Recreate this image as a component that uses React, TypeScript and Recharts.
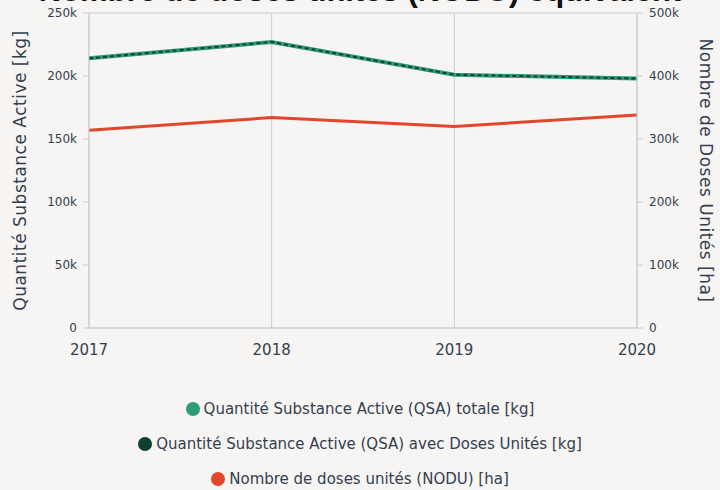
import React from 'react';
import { LineChart, Line, XAxis, YAxis, CartesianGrid } from 'recharts';

const years = ['2017', '2018', '2019', '2020'];
const qsaTotal = [214000, 227000, 201000, 198000];
const qsaDoses = [214000, 227000, 201000, 198000];
const nodu = [314000, 334000, 320000, 338000];

const leftTicks = [0, 50000, 100000, 150000, 200000, 250000];
const rightTicks = [0, 100000, 200000, 300000, 400000, 500000];

const series = [
  { key: 'qsaTotal', name: 'Quantité Substance Active (QSA) totale [kg]', color: '#2e9c7b' },
  { key: 'qsaDoses', name: 'Quantité Substance Active (QSA) avec Doses Unités [kg]', color: '#0f3f30' },
  { key: 'nodu', name: 'Nombre de doses unités (NODU) [ha]', color: '#e2462b' },
];

const data = years.map((year, i) => ({
  year,
  qsaTotal: qsaTotal[i],
  qsaDoses: qsaDoses[i],
  nodu: nodu[i],
}));

const FONT = '"DejaVu Sans", "Noto Sans", sans-serif';
const TEXT = '#34404f';
const GRID = '#c8ccd3';

const fmtK = (v: number) => (v === 0 ? '0' : `${v / 1000}k`);

export default function App() {
  return (
    <div style={{ position: 'absolute', left: 0, top: 0, width: 720, height: 490, background: '#f6f5f3', overflow: 'hidden', fontFamily: FONT }}>
      <LineChart width={720} height={390} data={data} margin={{ top: 13, right: 10, left: 10, bottom: 30 }}>
        <CartesianGrid stroke={GRID} vertical horizontal />
        <XAxis
          dataKey="year"
          tick={{ fontSize: 15, fill: TEXT }}
          tickLine={false}
          axisLine={{ stroke: GRID }}
          tickMargin={10}
          height={32}
          padding={{ left: 0, right: 0 }}
        />
        <YAxis
          yAxisId="left"
          domain={[0, 250000]}
          ticks={leftTicks}
          tickFormatter={fmtK}
          tick={{ fontSize: 12, fill: TEXT }}
          tickLine={{ stroke: GRID }}
          axisLine={{ stroke: GRID }}
          tickMargin={6}
          width={79}
          label={{ value: 'Quantité Substance Active [kg]', angle: -90, position: 'insideLeft', offset: 10, style: { textAnchor: 'middle', fontSize: 17, letterSpacing: 0.5, fill: TEXT } }}
        />
        <YAxis
          yAxisId="right"
          orientation="right"
          domain={[0, 500000]}
          ticks={rightTicks}
          tickFormatter={fmtK}
          tick={{ fontSize: 12, fill: TEXT }}
          tickLine={{ stroke: GRID }}
          axisLine={{ stroke: GRID }}
          tickMargin={6}
          width={73}
          label={{ value: 'Nombre de Doses Unités [ha]', angle: 90, position: 'insideRight', offset: 4, style: { textAnchor: 'middle', fontSize: 17, letterSpacing: 0.5, fill: TEXT } }}
        />
        <Line yAxisId="left" type="linear" dataKey="qsaTotal" stroke={series[0].color} strokeWidth={4} dot={false} isAnimationActive={false} />
        <Line yAxisId="left" type="linear" dataKey="qsaDoses" stroke={series[1].color} strokeWidth={2} strokeDasharray="4 3" dot={false} isAnimationActive={false} />
        <Line yAxisId="right" type="linear" dataKey="nodu" stroke={series[2].color} strokeWidth={3} dot={false} isAnimationActive={false} />
      </LineChart>
      <div style={{ position: 'absolute', zIndex: 2, top: -27, left: 0, width: 720, height: 36, lineHeight: '36px', textAlign: 'center', fontFamily: '"Liberation Sans", Arial, sans-serif', fontWeight: 700, fontSize: 31, color: '#111', whiteSpace: 'nowrap' }}>
        Nombre de doses unités (NODU) équivalent
      </div>
      <div style={{ position: 'absolute', top: 391, left: 0, width: 720 }}>
        {series.map((s) => (
          <div key={s.key} style={{ display: 'flex', justifyContent: 'center', alignItems: 'center', height: 35, fontSize: 15, color: TEXT }}>
            <span style={{ display: 'inline-block', width: 14, height: 14, borderRadius: '50%', background: s.color, marginRight: 4 }} />
            {s.name}
          </div>
        ))}
      </div>
    </div>
  );
}
